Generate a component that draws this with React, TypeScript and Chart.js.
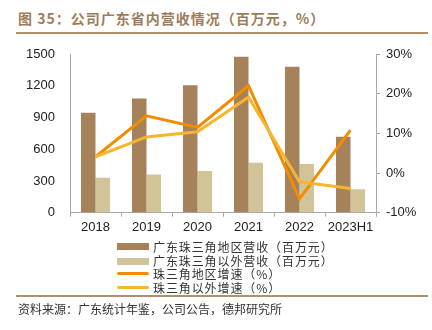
import React, { useEffect, useRef } from "react";
import { Chart, registerables } from "chart.js";

Chart.register(...registerables);

const categories = ["2018", "2019", "2020", "2021", "2022", "2023H1"];
const prdRevenue = [945, 1080, 1205, 1475, 1380, 718];
const otherRevenue = [330, 360, 395, 472, 460, 222];
const prdGrowth = [4.1, 14.4, 11.5, 22.0, -6.5, 10.8];
const otherGrowth = [4.1, 9.1, 10.4, 19.1, -2.2, -3.9];
const leftTicks = [0, 300, 600, 900, 1200, 1500];
const rightTicks = [-10, 0, 10, 20, 30];

const seriesNames = [
  "广东珠三角地区营收（百万元）",
  "广东珠三角以外营收（百万元）",
  "珠三角地区增速（%）",
  "珠三角以外增速（%）",
];
const title = "图 35：公司广东省内营收情况（百万元，%）";
const source = "资料来源：广东统计年鉴，公司公告，德邦研究所";

const C_DARK = "#A6825A";
const C_LIGHT = "#D1C498";
const C_ORANGE = "#F28C00";
const C_YELLOW = "#F8B530";
const AXIS = "#A8A8A8";
const TICKFONT = { family: '"Liberation Sans", Arial, sans-serif', size: 13 };

export default function App() {
  const ref = useRef<HTMLCanvasElement | null>(null);

  useEffect(() => {
    if (!ref.current) return;
    const chart = new Chart(ref.current, {
      type: "bar",
      data: {
        labels: categories,
        datasets: [
          {
            type: "line",
            label: seriesNames[2],
            data: prdGrowth,
            yAxisID: "y1",
            borderColor: C_ORANGE,
            backgroundColor: C_ORANGE,
            borderWidth: 3,
            pointRadius: 0,
            tension: 0,
            order: 1,
          },
          {
            type: "line",
            label: seriesNames[3],
            data: otherGrowth,
            yAxisID: "y1",
            borderColor: C_YELLOW,
            backgroundColor: C_YELLOW,
            borderWidth: 3,
            pointRadius: 0,
            tension: 0,
            order: 0,
          },
          {
            type: "bar",
            label: seriesNames[0],
            data: prdRevenue,
            yAxisID: "y",
            backgroundColor: C_DARK,
            categoryPercentage: 0.57,
            barPercentage: 1,
            order: 2,
          },
          {
            type: "bar",
            label: seriesNames[1],
            data: otherRevenue,
            yAxisID: "y",
            backgroundColor: C_LIGHT,
            categoryPercentage: 0.57,
            barPercentage: 1,
            order: 2,
          },
        ],
      },
      options: {
        responsive: false,
        animation: false,
        devicePixelRatio: 1,
        layout: { padding: { top: 14, left: 0, right: 0, bottom: 0 } },
        plugins: { legend: { display: false }, tooltip: { enabled: false } },
        scales: {
          x: {
            grid: { display: true, drawOnChartArea: false, offset: true, tickLength: 4, color: AXIS },
            border: { color: AXIS, width: 1 },
            ticks: { color: "#222", font: TICKFONT, padding: 3, maxRotation: 0 },
            afterFit: (s: any) => {
              s.height = 27.3;
            },
          },
          y: {
            position: "left",
            min: 0,
            max: 1500,
            afterBuildTicks: (s: any) => {
              s.ticks = leftTicks.map((v) => ({ value: v }));
            },
            grid: { drawOnChartArea: false, drawTicks: true, tickLength: 12, tickColor: "rgba(0,0,0,0)" },
            border: { color: AXIS, width: 1 },
            ticks: { color: "#222", font: TICKFONT, padding: 3, callback: (v: any) => String(v) },
            afterFit: (s: any) => {
              s.width = 70;
            },
          },
          y1: {
            position: "right",
            min: -10,
            max: 30,
            afterBuildTicks: (s: any) => {
              s.ticks = rightTicks.map((v) => ({ value: v }));
            },
            grid: { drawOnChartArea: false, tickLength: 4, color: AXIS },
            border: { color: AXIS, width: 1 },
            ticks: {
              color: "#222",
              font: TICKFONT,
              padding: 6,
              callback: (v: any) => `${v}%`,
            },
            afterFit: (s: any) => {
              s.width = 56;
            },
          },
        },
      },
    });
    return () => chart.destroy();
  }, []);

  const cjk = '"Noto Sans CJK SC", "Noto Sans", sans-serif';
  const legendItems = [
    { color: C_DARK, h: 7 },
    { color: C_LIGHT, h: 7 },
    { color: C_ORANGE, h: 3 },
    { color: C_YELLOW, h: 3 },
  ];
  const legendY = [246.7, 261, 273.5, 287.7];

  return (
    <div
      style={{
        position: "fixed",
        left: 0,
        top: 0,
        width: 432,
        height: 330,
        background: "#fff",
        overflow: "hidden",
      }}
    >
      <div
        style={{
          position: "absolute",
          left: 18,
          top: 8,
          fontFamily: cjk,
          fontWeight: 700,
          fontSize: 14,
          letterSpacing: 1,
          lineHeight: "20px",
          color: "#9E7C5A",
          whiteSpace: "nowrap",
        }}
      >
        {title}
      </div>
      <div style={{ position: "absolute", left: 16, top: 32, width: 412, height: 2, background: "#B48E66" }} />
      <div style={{ position: "absolute", left: 0, top: 40, width: 432, height: 200 }}>
        <canvas ref={ref} width={432} height={200} style={{ width: 432, height: 200, display: "block" }} />
      </div>
      {legendItems.map((it, i) => (
        <div key={i}>
          <div
            style={{
              position: "absolute",
              left: 117,
              top: legendY[i] - it.h / 2,
              width: 32,
              height: it.h,
              background: it.color,
              borderRadius: it.h === 3 ? 1.5 : 0,
            }}
          />
          <div
            style={{
              position: "absolute",
              left: 153,
              top: legendY[i] - 9,
              height: 18,
              lineHeight: "18px",
              fontFamily: cjk,
              fontSize: 12,
              letterSpacing: 0.9,
              color: "#333",
              whiteSpace: "nowrap",
            }}
          >
            {seriesNames[i]}
          </div>
        </div>
      ))}
      <div style={{ position: "absolute", left: 16, top: 295, width: 412, height: 1.5, background: "#B48E66" }} />
      <div
        style={{
          position: "absolute",
          left: 18,
          top: 300,
          lineHeight: "18px",
          fontFamily: cjk,
          fontSize: 12,
          color: "#333",
          whiteSpace: "nowrap",
        }}
      >
        {source}
      </div>
    </div>
  );
}
